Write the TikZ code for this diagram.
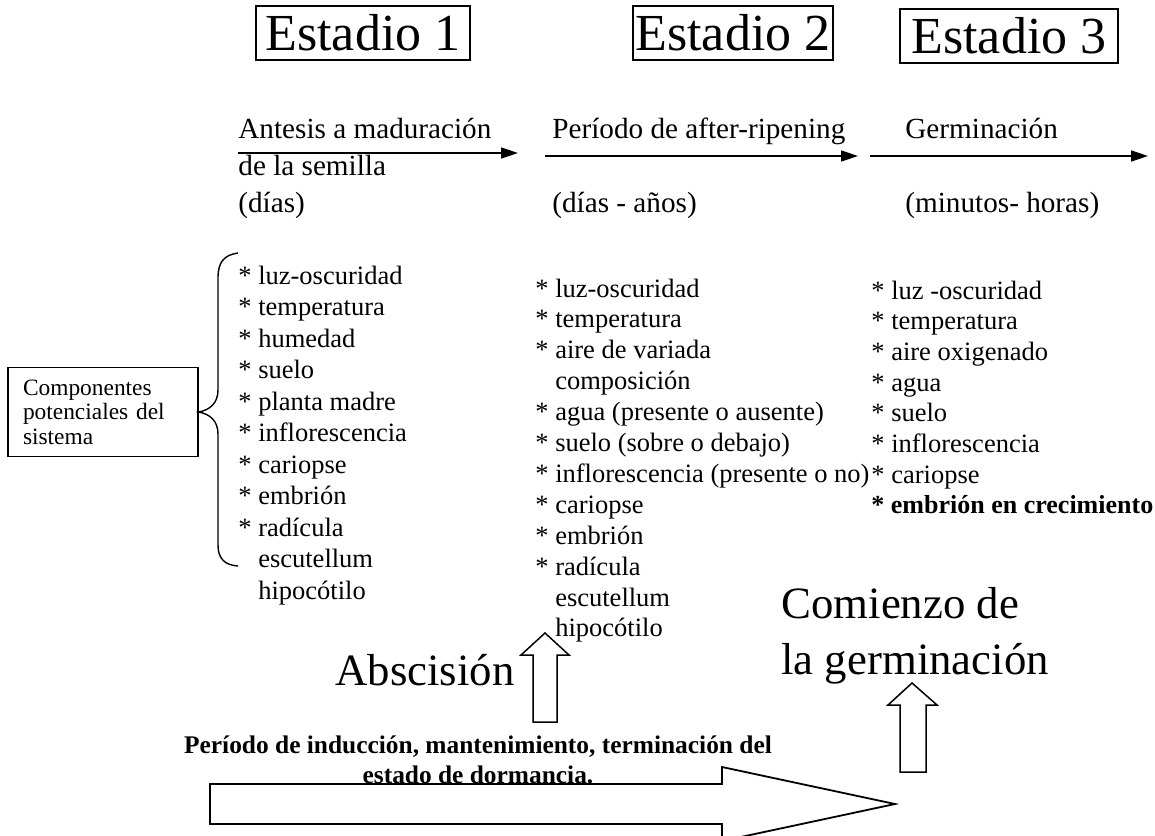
\documentclass[tikz,border=0pt]{standalone}
\usepackage{fontspec}
\setmainfont{Liberation Serif}
\usetikzlibrary{arrows.meta,positioning}

\newcommand{\itm}{\makebox[0.75em][l]{*}}
\newcommand{\cnt}{\hspace*{0.75em}}

\begin{document}
\begin{tikzpicture}[x=0.5pt,y=-0.5pt,
  stagebox/.style={draw,line width=0.75pt,inner xsep=0pt,minimum height=27pt,font=\fontsize{26}{30}\selectfont},
  headtext/.style={inner sep=0pt,anchor=base west,font=\fontsize{14.6}{16.5}\selectfont},
  listtext/.style={inner sep=0pt,anchor=base west,font=\fontsize{13.25}{15.5}\selectfont},
  bigtext/.style={inner sep=0pt,anchor=base west,font=\fontsize{22.4}{26}\selectfont},
  timeline/.style={line width=0.75pt,-{Triangle[length=8.5pt,width=5.5pt]}},
  hollow/.style={draw,line width=0.75pt,line join=miter}]
\useasboundingbox (0,0) rectangle (1155,835);
\clip (0,0) rectangle (1155,835);

% titulos de los estadios
\node[stagebox,minimum width=107pt] (st1) at (363,33) {Estadio 1};
\node[stagebox,minimum width=100pt] (st2) at (733,33) {Estadio 2};
\node[stagebox,minimum width=109pt] (st3) at (1009,36) {Estadio 3};

% lineas de tiempo
\node[headtext] (h1) at (238,138) {Antesis a maduración};
\node[headtext] (h1b) at (238,175) {de la semilla};
\node[headtext] (h1c) at (238,212) {(días)};
\node[headtext] (h2) at (552,138) {Período de after-ripening};
\node[headtext] (h2c) at (552,212) {(días - años)};
\node[headtext] (h3) at (905,138) {Germinación};
\node[headtext] (h3c) at (905,212) {(minutos- horas)};
\coordinate (t1a) at (238,153);
\coordinate (t1b) at (518,153);
\coordinate (t2a) at (545,156);
\coordinate (t2b) at (858,156);
\coordinate (t3a) at (870,156);
\coordinate (t3b) at (1148,156);
\draw[timeline] (t1a) -- (t1b);
\draw[timeline] (t2a) -- (t2b);
\draw[timeline] (t3a) -- (t3b);

% listas de componentes
\foreach \t [count=\i] in {\itm luz-oscuridad, \itm temperatura, \itm humedad,
  \itm suelo, \itm planta madre, \itm inflorescencia, \itm cariopse,
  \itm embrión, \itm radícula, \cnt escutellum, \cnt hipocótilo}
  \node[listtext] (la\i) at (238,284+31.5*\i-31.5) {\t};
\foreach \t [count=\i] in {\itm luz-oscuridad, \itm temperatura, \itm aire de variada,
  \cnt composición, \itm agua (presente o ausente), \itm suelo (sobre o debajo),
  \itm inflorescencia (presente o no), \itm cariopse, \itm embrión,
  \itm radícula, \cnt escutellum, \cnt hipocótilo}
  \node[listtext] (lb\i) at (535,297+30.9*\i-30.9) {\t};
\foreach \t [count=\i] in {\itm luz -oscuridad, \itm temperatura, \itm aire oxigenado,
  \itm agua, \itm suelo, \itm inflorescencia, \itm cariopse,
  {\fontsize{13}{15}\selectfont\bfseries\itm embrión en crecimiento}}
  \node[listtext] (lc\i) at (871,299+30.7*\i-30.7) {\t};

% componentes del sistema
\node[draw,line width=0.6pt,minimum width=95pt,minimum height=44.5pt,inner xsep=7.5pt,
  text width=80pt,align=left,font=\fontsize{11.7}{12.2}\selectfont] (comp) at (103,412)
  {Componentes\\potenciales del\\sistema};
\coordinate (brtip) at (comp.east);
\draw[line width=0.7pt] (238,253) .. controls (224,255) and (218,262) .. (218,278)
  -- (218,390) .. controls (218,403) and (210,410) .. (brtip)
  .. controls (210,414) and (218,421) .. (218,434)
  -- (218,545) .. controls (218,558) and (224,565) .. (238,566);

% abscision y germinacion
\node[bigtext] (absc) at (335,685) {Abscisión};
\node[bigtext] (com1) at (781,618) {Comienzo de};
\node[bigtext] (com2) at (781,674) {la germinación};
\draw[hollow] (533,722) -- (533,655) -- (521,655) -- (545,633) -- (569,655)
  -- (557,655) -- (557,722) -- cycle;
\draw[hollow] (900,772) -- (900,705) -- (888,705) -- (912,683) -- (937,705)
  -- (926,705) -- (926,772) -- cycle;

% periodo de dormancia
\node[inner sep=0pt,anchor=north,align=center,font=\fontsize{12.7}{15}\selectfont\bfseries]
  (dorm) at (478,735) {Período de inducción, mantenimiento, terminación del\\estado de dormancia.};
\draw[hollow,line width=0.9pt] (210,784) -- (722,784) -- (722,767) -- (895,804)
  -- (722,841) -- (722,824) -- (210,824) -- cycle;
\end{tikzpicture}
\end{document}
